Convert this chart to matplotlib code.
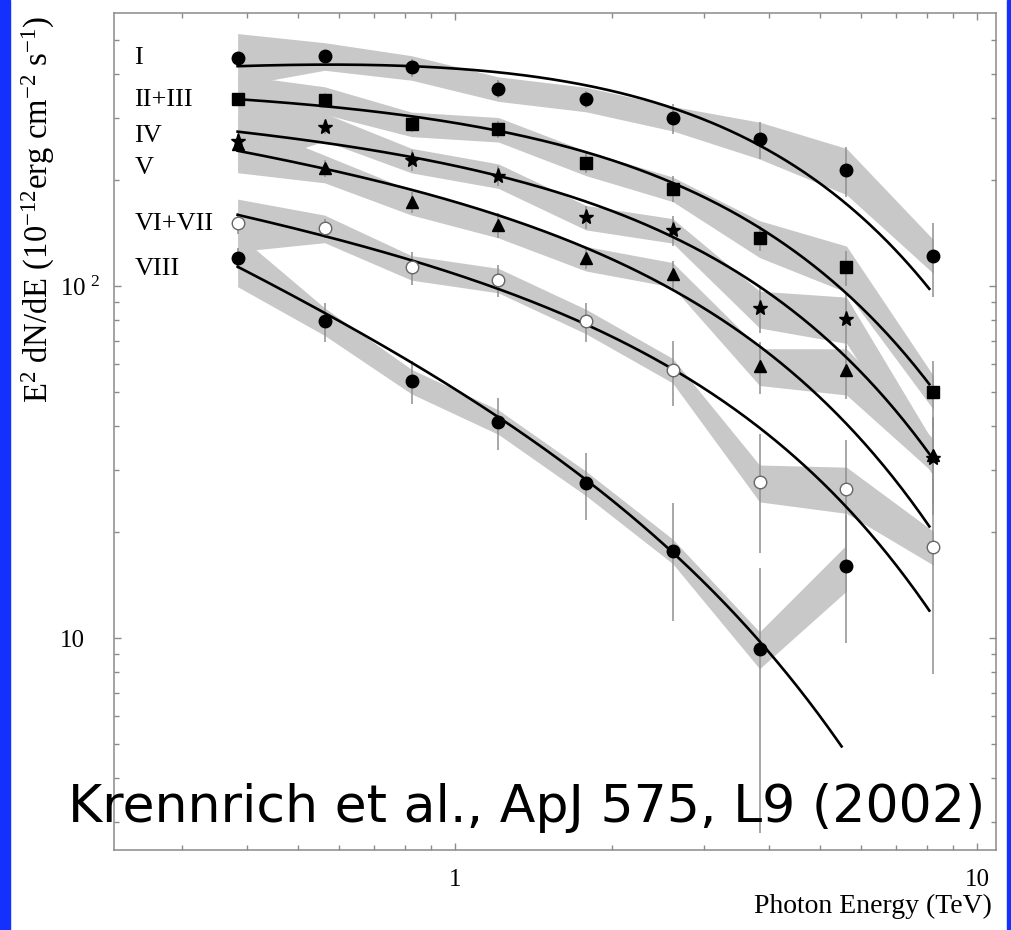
import numpy as np
import matplotlib
matplotlib.use("Agg")
import matplotlib.pyplot as plt
from matplotlib.patches import Rectangle
from matplotlib.ticker import FixedLocator, NullFormatter

plt.rcParams["font.family"] = "Liberation Serif"
plt.rcParams["mathtext.default"] = "regular"

# Energy bins (TeV)
energy = [0.383, 0.562, 0.825, 1.21, 1.78, 2.61, 3.83, 5.62, 8.25]

# E^2 dN/dE (1e-12 erg cm^-2 s^-1) and statistical errors per flux state
flux_I = [446, 451, 418, 364, 340, 300, 261, 214, 122]
err_I = [15, 18, 25, 21, 19, 30, 32, 35, 29]
flux_II_III = [340, 338, 289, 279, 224, 189, 137, 113, 50.1]
err_II_III = [12, 15, 15, 15, 15, 16, 11, 13, 11]
flux_IV = [258, 284, 228, 206, 157, 144, 86.4, 80.9, 32.4]
err_IV = [12, 13, 15, 13, 12, 14, 13, 15, 10]
flux_V = [253, 216, 173, 149, 120, 108, 59.3, 57.7, 33.1]
err_V = [12, 12, 12, 12, 8, 10, 10, 10, 9]
flux_VI_VII = [151, 146, 113, 104, 79.6, 57.7, 27.7, 26.6, 18.1]
err_VI_VII = [10, 9, 12, 11, 10, 12, 10.3, 10, 10.2]
flux_VIII = [120, 79.6, 53.7, 41.2, 27.6, 17.7, 9.30, 16.0, np.nan]
err_VIII = [8, 10, 7.5, 7, 6, 6.5, 6.5, 6.3, np.nan]

# Relative systematic uncertainty per energy bin (shaded bands)
sys_frac = [0.17, 0.09, 0.08, 0.08, 0.08, 0.08, 0.12, 0.15, 0.11]

# Power law with exponential cutoff: E^2 dN/dE = N * E^(2-alpha) * exp(-E/E0)
fit_norm = [530, 369, 280, 221, 137, 66.6]
fit_index = [1.859, 2.009, 2.077, 2.193, 2.252, 2.663]
fit_cutoff = [4.09, 4.20, 4.12, 4.13, 4.24, 3.73]
fit_emax = [8.1, 8.1, 8.2, 8.1, 8.1, 5.5]

state_names = ["I", "II+III", "IV", "V", "VI+VII", "VIII"]
fluxes = [flux_I, flux_II_III, flux_IV, flux_V, flux_VI_VII, flux_VIII]
errors = [err_I, err_II_III, err_IV, err_V, err_VI_VII, err_VIII]

marker_styles = [
    dict(marker="o", ms=9, mfc="black", mec="black"),
    dict(marker="s", ms=8.5, mfc="black", mec="black"),
    dict(marker="*", ms=11, mfc="black", mec="black"),
    dict(marker="^", ms=9, mfc="black", mec="black"),
    dict(marker="o", ms=9, mfc="white", mec="#666666", mew=1.0),
    dict(marker="o", ms=9, mfc="black", mec="black"),
]
label_y = [444, 337, 267, 216, 150, 112]

fig = plt.figure(figsize=(10.11, 9.30), dpi=100)
fig.patch.set_facecolor("white")
ax = fig.add_axes([114 / 1011, 80 / 930, 882 / 1011, 837 / 930])
ax.set_xscale("log")
ax.set_yscale("log")

E_arr = np.array(energy)
for i in range(len(fluxes)):
    f = np.array(fluxes[i], dtype=float)
    e = np.array(errors[i], dtype=float)
    s = np.array(sys_frac)
    ok = ~np.isnan(f)
    ax.fill_between(E_arr[ok], f[ok] * (1 - s[ok]), f[ok] * (1 + s[ok]),
                    color="#c8c8c8", lw=0, zorder=1)
    ax.vlines(E_arr[ok], f[ok] - e[ok], f[ok] + e[ok], color="#8f8f8f",
              lw=1.1, zorder=2)
    Eg = np.geomspace(energy[0], fit_emax[i], 300)
    model = fit_norm[i] * Eg ** (2 - fit_index[i]) * np.exp(-Eg / fit_cutoff[i])
    ax.plot(Eg, model, color="black", lw=1.9, zorder=3)
    ax.plot(E_arr[ok], f[ok], ls="none", zorder=4, **marker_styles[i])
    ax.text(0.2427, label_y[i], state_names[i], fontsize=19, ha="left",
            va="center", zorder=5)

ax.set_xlim(0.222, 10.87)
ax.set_ylim(2.5, 597)

ax.xaxis.set_major_locator(FixedLocator([1, 10]))
ax.set_xticklabels(["1", "10"])
ax.xaxis.set_minor_locator(FixedLocator([0.3, 0.4, 0.5, 0.6, 0.7, 0.8, 0.9,
                                         2, 3, 4, 5, 6, 7, 8, 9]))
ax.xaxis.set_minor_formatter(NullFormatter())
ax.yaxis.set_major_locator(FixedLocator([10, 100]))
ax.set_yticklabels(["10", r"$10^{\ 2}$"])
ax.yaxis.set_minor_locator(FixedLocator([3, 4, 5, 6, 7, 8, 9,
                                         20, 30, 40, 50, 60, 70, 80, 90,
                                         200, 300, 400, 500]))
ax.yaxis.set_minor_formatter(NullFormatter())

ax.tick_params(which="both", direction="in", top=True, right=True,
               color="#8a8a8a", width=1.0, labelsize=18)
ax.tick_params(which="major", length=5)
ax.tick_params(which="minor", length=3.5)
ax.tick_params(axis="x", pad=14)
ax.tick_params(axis="y", pad=39)
for lbl in ax.get_yticklabels():
    lbl.set_horizontalalignment("left")
for sp in ax.spines.values():
    sp.set_color("#8a8a8a")
    sp.set_linewidth(1.1)

fig.text(38 / 1011, 1 - 210 / 930,
         r"E$^{2}$ dN/dE (10$^{-12}$erg cm$^{-2}$ s$^{-1}$)",
         rotation=90, fontsize=23.5, ha="center", va="center")
fig.text(992 / 1011, 1 - 906 / 930, "Photon Energy (TeV)",
         ha="right", va="center", fontsize=20)
fig.text(68 / 1011, 1 - 822 / 930, "Krennrich et al., ApJ 575, L9 (2002)",
         family="DejaVu Sans", fontsize=37.5, ha="left", va="baseline")

fig.patches.append(Rectangle((0, 0), 10 / 1011, 1, transform=fig.transFigure,
                             color="#1430ff", zorder=0))
fig.patches.append(Rectangle((1007 / 1011, 0), 4 / 1011, 1,
                             transform=fig.transFigure, color="#1430ff",
                             zorder=0))

fig.savefig("out.png", dpi=100)
